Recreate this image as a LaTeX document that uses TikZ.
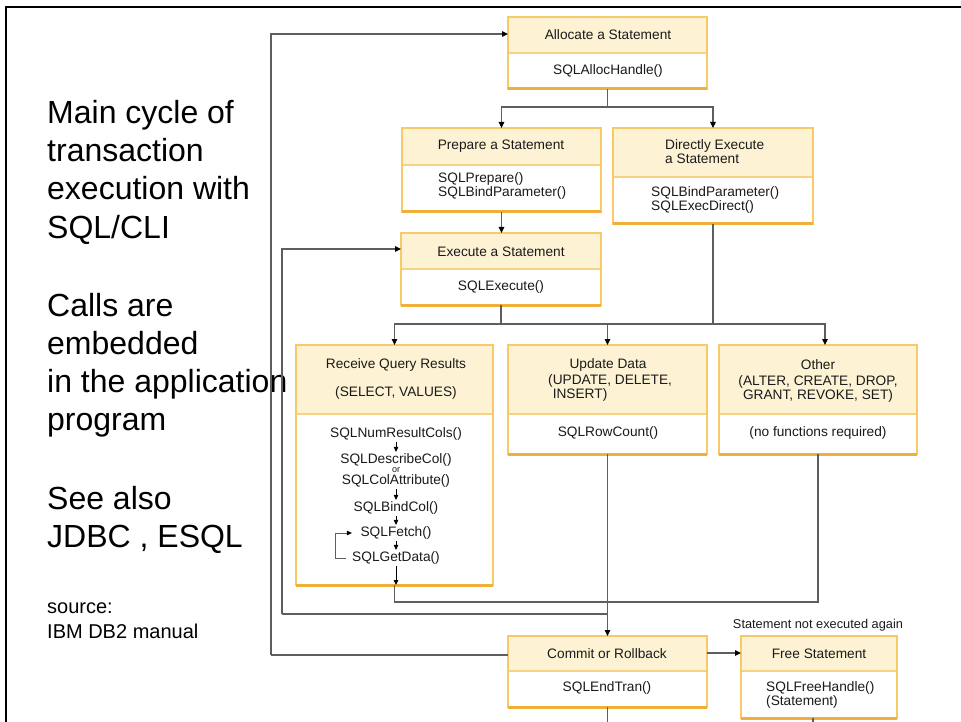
\documentclass[tikz,border=0pt]{standalone}
\usepackage{fontspec}
\setmainfont{Liberation Sans}
\usetikzlibrary{arrows.meta,calc}

\definecolor{hdrfill}{HTML}{FDF3D4}
\definecolor{boxedge}{HTML}{F6CA69}
\definecolor{boxbase}{HTML}{F0AF38}
\definecolor{sepcol}{HTML}{F8D283}
\definecolor{wire}{HTML}{5E5E5E}
\definecolor{ink}{HTML}{1A1A1A}

% one statement box: name, left, top, right, header/body split, bottom
\newcommand\stmtbox[6]{%
  \node[fill=white, inner sep=0pt, outer sep=0pt, anchor=north west,
        minimum width={#4-#2}, minimum height={#6-#3}] (#1) at (#2,#3) {};
  \fill[hdrfill] (#2,#3) rectangle (#4,#5);
  \draw[sepcol, line width=1.5pt] (#2,#5) -- (#4,#5);
  \draw[boxedge, line width=2pt] (#1.north west) rectangle (#1.south east);
  \draw[boxbase, line width=3pt] (#1.south west) -- (#1.south east);
}

\begin{document}
\begin{tikzpicture}[x=1pt, y=-1pt,
  btxt/.style={font=\fontsize{13.7}{14}\selectfont, text=ink, inner sep=1.5pt, align=center},
  big/.style={font=\fontsize{32}{38}\selectfont, inner sep=0pt, anchor=base west},
  small/.style={font=\fontsize{20}{24}\selectfont, inner sep=0pt, anchor=base west},
  conn/.style={draw=wire, line width=1.2pt},
  flow/.style={conn, -{Triangle[color=black, length=6pt, width=5.5pt]}},
  inflow/.style={draw=black, line width=0.9pt, -{Triangle[color=black, length=5pt, width=4.5pt]}}]

\useasboundingbox (0,0) rectangle (961,722);

% slide frame (top and left edges)
\draw[line width=2.7pt, black] (6,740) -- (6,7) -- (980,7);

% captions on the left
\foreach \t/\y in {Main cycle of/124, transaction/162, execution with/200, {SQL/CLI}/238,
                   Calls are/316, embedded/354, in the application/392, program/430,
                   See also/509, {JDBC , ESQL}/547}
  \node[big] (cap\y) at (47,\y) {\t};
\node[small] (src1) at (47,613) {source:};
\node[small] (src2) at (47,638) {IBM DB2 manual};

% statement boxes
\stmtbox{alloc}{508}{17}{707}{53}{89}
\stmtbox{prep}{402}{128}{601}{165}{212}
\stmtbox{direct}{613}{128}{813}{177}{224}
\stmtbox{exec}{401}{233}{601}{269}{305}
\stmtbox{recv}{296}{345}{493}{414}{585}
\stmtbox{upd}{508}{345}{707}{414}{454}
\stmtbox{oth}{719}{345}{917}{414}{454}
\stmtbox{comm}{508}{636}{707}{671}{707}
\stmtbox{free}{741}{636}{897}{671}{718}

% box texts
\node[btxt] (allocH) at (608,35) {Allocate a Statement};
\node[btxt] (allocB) at (608,71) {SQLAllocHandle()};
\node[btxt] (prepH) at (501,146) {Prepare a Statement};
\node[btxt, anchor=west, align=left] (prepB) at (436.5,186) {SQLPrepare()\\SQLBindParameter()};
\node[btxt, anchor=west, align=left] (directH) at (663.5,152) {Directly Execute\\a Statement};
\node[btxt, anchor=west, align=left] (directB) at (649.5,200) {SQLBindParameter()\\SQLExecDirect()};
\node[btxt] (execH) at (501,252) {Execute a Statement};
\node[btxt] (execB) at (501,287) {SQLExecute()};

\node[btxt] (recvH1) at (396,365) {Receive Query Results};
\node[btxt] (recvH2) at (396,393) {(SELECT, VALUES)};
\node[btxt] (r1) at (396,434) {SQLNumResultCols()};
\node[btxt] (r2a) at (396,460) {SQLDescribeCol()};
\node[btxt, font=\fontsize{9}{9}\selectfont, inner sep=0pt] (ror) at (396,470.5) {or};
\node[btxt] (r2b) at (396,481) {SQLColAttribute()};
\node[btxt] (r3) at (396,508) {SQLBindCol()};
\node[btxt] (r4) at (396,533) {SQLFetch()};
\node[btxt] (r5) at (396,558) {SQLGetData()};

\node[btxt] (updH) at (608,365) {Update Data};
\node[btxt, anchor=west, align=left] (updH2) at (546.5,388) {(UPDATE, DELETE,\\\hphantom{(}INSERT)};
\node[btxt] (updB) at (608,433) {SQLRowCount()};
\node[btxt] (othH) at (818,365) {Other};
\node[btxt] (othH2) at (818,388.5) {(ALTER, CREATE, DROP,\\GRANT, REVOKE, SET)};
\node[btxt] (othB) at (818,433) {(no functions required)};
\node[btxt] (commH) at (607,654) {Commit or Rollback};
\node[btxt] (commB) at (607,688) {SQLEndTran()};
\node[btxt] (freeH) at (819,654) {Free Statement};
\node[btxt, anchor=west, align=left] (freeB) at (764.5,695) {SQLFreeHandle()\\(Statement)};
\node[btxt, font=\fontsize{12.8}{13}\selectfont] (note) at (818,625) {Statement not executed again};

% helper rows for the connectors
\coordinate (fan1) at (607.5,107);
\coordinate (fan2) at (501,324);
\coordinate (mrg) at (0,602);
\coordinate (back1) at (282,614);
\coordinate (back2) at (271,655);
\coordinate (row249) at (0,249);
\coordinate (row34) at (0,34);
\coordinate (row653) at (0,653);

% allocate -> prepare / direct
\draw[conn] (alloc.south) -- (fan1);
\draw[flow] (fan1) -| (prep.north);
\draw[flow] (fan1) -| (direct.north);
\draw[flow] (prep.south) -- (prep.south |- exec.north);

% execute / direct -> result kinds
\draw[conn] (exec.south) -- (fan2);
\draw[conn] (direct.south) -- (direct.south |- fan2);
\draw[flow] (fan2) -| (recv.north);
\draw[flow] (fan2) -| (upd.north);
\draw[flow] (fan2) -| ([xshift=7pt]oth.north);

% result kinds -> commit
\draw[flow] (upd.south) -- (upd.south |- comm.north);
\draw[conn] (recv.south) |- (oth.south |- mrg) -- (oth.south);

% loop back to execute
\draw[conn] (upd.south |- back1) -- (back1);
\draw[flow] (back1) |- (exec.west |- row249);

% loop back to allocate
\draw[conn] (comm.west |- back2) -- (back2);
\draw[flow] (back2) |- (alloc.west |- row34);

% commit -> free
\draw[flow] (comm.east |- row653) -- (free.west |- row653);
\draw[conn] (comm.south) -- ++(0,20);
\draw[conn] ([xshift=-6pt]free.south) -- ++(0,10);

% fetch sequence inside the query box
\draw[inflow] (r1.south) -- (r2a.north);
\draw[inflow] (r2b.south) -- (r3.north);
\draw[inflow] (r3.south) -- (r4.north);
\draw[inflow] (r4.south) -- (r5.north);
\draw[inflow] (r5.south) -- (r5.south |- recv.south);
\draw[conn, line width=1pt, -{Triangle[color=black, length=5pt, width=4.5pt]}]
  ([xshift=-5pt]r5.west) -- ++(-10,0) |- ([xshift=-7pt]r4.west);

\end{tikzpicture}
\end{document}
